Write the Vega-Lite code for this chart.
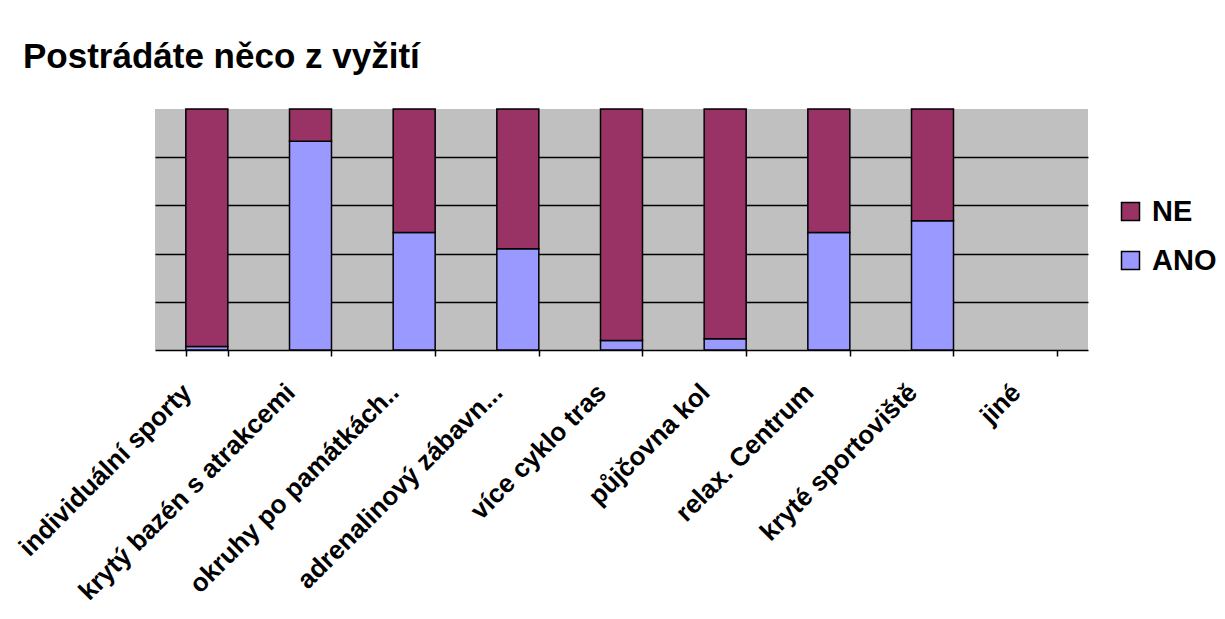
{
  "$schema": "https://vega.github.io/schema/vega-lite/v6.json",
  "width": 933,
  "height": 241,
  "autosize": "none",
  "padding": {"left": 155, "top": 109, "right": 137, "bottom": 269},
  "background": "white",
  "title": {
    "text": "Postrádáte něco z vyžití",
    "anchor": "start",
    "frame": "group",
    "dx": -132,
    "offset": 5,
    "baseline": "alphabetic",
    "font": "Liberation Sans",
    "fontSize": 35,
    "fontWeight": "bold",
    "color": "black"
  },
  "data": {
    "values": [
      {"kategorie": "individuální sporty", "odpoved": "ANO", "hodnota": 1.5},
      {"kategorie": "individuální sporty", "odpoved": "NE", "hodnota": 98.5},
      {"kategorie": "krytý bazén s atrakcemi", "odpoved": "ANO", "hodnota": 86.6},
      {"kategorie": "krytý bazén s atrakcemi", "odpoved": "NE", "hodnota": 13.4},
      {"kategorie": "okruhy po památkách..", "odpoved": "ANO", "hodnota": 48.8},
      {"kategorie": "okruhy po památkách..", "odpoved": "NE", "hodnota": 51.2},
      {"kategorie": "adrenalinový zábavn...", "odpoved": "ANO", "hodnota": 42.0},
      {"kategorie": "adrenalinový zábavn...", "odpoved": "NE", "hodnota": 58.0},
      {"kategorie": "více cyklo tras", "odpoved": "ANO", "hodnota": 3.9},
      {"kategorie": "více cyklo tras", "odpoved": "NE", "hodnota": 96.1},
      {"kategorie": "půjčovna kol", "odpoved": "ANO", "hodnota": 4.7},
      {"kategorie": "půjčovna kol", "odpoved": "NE", "hodnota": 95.3},
      {"kategorie": "relax. Centrum", "odpoved": "ANO", "hodnota": 48.8},
      {"kategorie": "relax. Centrum", "odpoved": "NE", "hodnota": 51.2},
      {"kategorie": "kryté sportoviště", "odpoved": "ANO", "hodnota": 53.6},
      {"kategorie": "kryté sportoviště", "odpoved": "NE", "hodnota": 46.4}
    ]
  },
  "mark": {"type": "bar", "stroke": "black", "strokeWidth": 1.5},
  "encoding": {
    "x": {
      "field": "kategorie",
      "type": "nominal",
      "sort": null,
      "scale": {
        "domain": ["individuální sporty", "krytý bazén s atrakcemi", "okruhy po památkách..", "adrenalinový zábavn...", "více cyklo tras", "půjčovna kol", "relax. Centrum", "kryté sportoviště", "jiné"],
        "paddingInner": 0.595,
        "paddingOuter": 0.2975
      },
      "axis": {
        "title": null,
        "labelAngle": -45,
        "labelAlign": "right",
        "labelBaseline": "middle",
        "labelFont": "Liberation Sans",
        "labelFontSize": 26,
        "labelFontWeight": "bold",
        "labelColor": "black",
        "labelPadding": 32,
        "labelOffset": -20,
        "labelLimit": 0,
        "tickBand": "extent",
        "tickColor": "black",
        "tickWidth": 1.5,
        "tickSize": 6,
        "domainColor": "black",
        "domainWidth": 1.5
      }
    },
    "y": {
      "field": "hodnota",
      "type": "quantitative",
      "stack": "normalize",
      "scale": {"domain": [0, 1]},
      "axis": {
        "title": null,
        "labels": false,
        "ticks": false,
        "domain": false,
        "values": [0.2, 0.4, 0.6, 0.8],
        "grid": true,
        "gridColor": "black",
        "gridWidth": 1.5,
        "gridOpacity": 1
      }
    },
    "color": {
      "field": "odpoved",
      "type": "nominal",
      "scale": {"domain": ["NE", "ANO"], "range": ["#993366", "#9999FF"]},
      "legend": {
        "title": null,
        "orient": "none",
        "legendX": 961,
        "legendY": 88,
        "symbolType": "square",
        "symbolSize": 324,
        "symbolStrokeColor": "black",
        "symbolStrokeWidth": 1.5,
        "symbolOpacity": 1,
        "labelFont": "Liberation Sans",
        "labelFontSize": 29,
        "labelFontWeight": "bold",
        "labelColor": "black",
        "rowPadding": 19,
        "labelOffset": 7
      }
    },
    "order": {"field": "odpoved", "sort": "ascending"}
  },
  "config": {
    "view": {"fill": "#C0C0C0", "stroke": null}
  }
}
